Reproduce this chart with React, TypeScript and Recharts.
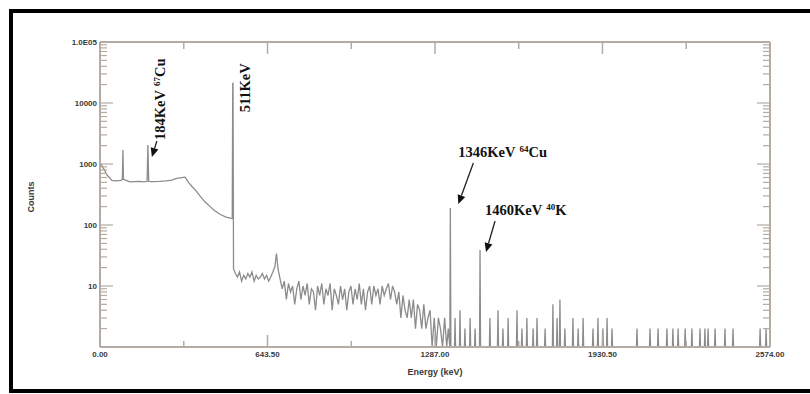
import React from "react";
import {
  LineChart,
  Line,
  XAxis,
  YAxis,
  ReferenceDot,
  Label,
} from "recharts";

// continuum below the annihilation peak (keV / counts)
const lowEnergy = [0, 12, 27, 46, 62, 80, 86, 88, 90, 100, 115, 135, 150, 170, 181, 184, 187, 200, 230, 255, 275, 295, 315, 327, 340, 355, 370, 384, 403, 423, 442, 461, 484, 500, 508];
const lowCounts = [1050, 870, 660, 540, 530, 540, 560, 1700, 560, 540, 510, 515, 520, 510, 520, 2050, 520, 515, 520, 530, 545, 580, 600, 610, 500, 420, 360, 300, 240, 200, 170, 150, 135, 130, 128];

// 511 keV line
const annEnergy = [510, 511, 513];
const annCounts = [21000, 21000, 19];

// noisy compton region
const midEnergy = [520, 528, 536, 544, 552, 560, 568, 576, 584, 592, 600, 608, 616, 624, 632, 640, 648, 656, 664, 672, 678, 684, 692, 700, 708, 716, 724, 732, 740, 748, 756, 764, 772, 780, 788, 796, 804, 812, 820, 828, 836, 844, 852, 860, 868, 876, 884, 892, 900, 908, 916, 924, 932, 940, 948, 956, 964, 972, 980, 988, 996, 1004, 1012, 1020, 1028, 1036, 1044, 1052, 1060, 1068, 1076, 1084, 1092, 1100, 1108, 1116, 1124, 1132, 1140, 1148, 1156, 1164, 1172, 1180, 1188, 1196, 1204, 1212, 1220, 1228, 1236, 1244, 1252, 1260, 1268, 1276, 1284, 1292, 1300, 1308, 1316, 1324, 1332, 1338];
const midCounts = [16, 14, 17, 12, 15, 13, 16, 14, 17, 12, 15, 13, 14, 16, 13, 15, 12, 14, 17, 21, 34, 19,
  13, 9, 12, 6, 11, 8, 10, 5, 9, 12,
  6, 10, 7, 11, 5, 9, 8, 4, 10, 7,
  11, 5, 9, 7, 11, 4, 9, 7, 5, 10,
  6, 9, 4, 8, 10, 5, 9, 6, 11, 5,
  9, 4, 8, 10, 5, 10, 7, 9, 5, 10,
  7, 9, 11, 6, 10, 8, 5, 8, 3, 7,
  4, 3, 6, 3, 6, 2, 5, 4, 2, 5,
  2, 3, 4, 1, 3, 1, 3, 2, 1, 3,
  1, 2];

// sparse high-energy counts (1 = empty channel, sits on the axis)
const tailEnergy = [1344, 1346, 1348, 1362, 1364, 1366, 1381, 1383, 1385, 1400, 1402, 1404, 1420, 1422, 1424, 1439, 1441, 1443, 1458, 1460, 1462, 1496, 1498, 1500, 1527, 1529, 1531, 1546, 1548, 1550, 1566, 1568, 1570, 1600, 1602, 1604, 1619, 1621, 1623, 1638, 1640, 1642, 1662, 1664, 1666, 1677, 1679, 1681, 1708, 1710, 1712, 1738, 1740, 1742, 1754, 1756, 1758, 1765, 1767, 1769, 1784, 1786, 1788, 1815, 1817, 1819, 1835, 1837, 1839, 1854, 1856, 1858, 1892, 1894, 1896, 1911, 1913, 1915, 1930, 1932, 1934, 1946, 1948, 1950, 1965, 1967, 1969, 2061, 2063, 2065, 2111, 2113, 2115, 2142, 2144, 2146, 2176, 2178, 2180, 2199, 2201, 2203, 2219, 2221, 2223, 2246, 2248, 2250, 2272, 2274, 2276, 2303, 2305, 2307, 2322, 2324, 2326, 2334, 2336, 2338, 2361, 2363, 2365, 2399, 2401, 2403, 2430, 2432, 2434, 2534, 2536, 2538, 2557, 2559, 2561, 2574];
const tailCounts = [1, 190, 1, 1, 3, 1, 1, 4, 1, 1, 2, 1, 1, 3, 1, 1, 2, 1, 1, 39, 1, 1, 3, 1, 1, 4, 1, 1, 2, 1, 1, 3, 1, 1, 4, 1, 1, 2, 1, 1, 3, 1, 1, 2, 1, 1, 3, 1, 1, 2, 1, 1, 5, 1, 1, 3, 1, 1, 6, 1, 1, 2, 1, 1, 3, 1, 1, 2, 1, 1, 3, 1, 1, 2, 1, 1, 3, 1, 1, 2, 1, 1, 3, 1, 1, 2, 1, 1, 2, 1, 1, 2, 1, 1, 2, 1, 1, 2, 1, 1, 2, 1, 1, 2, 1, 1, 2, 1, 1, 2, 1, 1, 2, 1, 1, 2, 1, 1, 2, 1, 1, 2, 1, 1, 2, 1, 1, 2, 1, 1, 2, 1, 1, 2, 1, 1];

const xMajorTicks = [0, 643.5, 1287, 1930.5, 2574];
const xTickLabels = ["0.00", "643.50", "1287.00", "1930.50", "2574.00"];
const xMinorTicks = [321.75, 965.25, 1608.75, 2252.25];

const yMajorTicks = [1, 10, 100, 1000, 10000, 100000];
const yTickLabels = ["", "10", "100", "1000", "10000", "1.0E05"];
const yMinorMult = [2, 3, 4, 5, 6, 7, 8, 9];

const axisColor = "#b4aba3";
const labelColor = "#3a3a3a";

const energy = [...lowEnergy, ...annEnergy, ...midEnergy, ...tailEnergy];
const counts = [...lowCounts, ...annCounts, ...midCounts, ...tailCounts];
const spectrum = energy.map((e, i) => ({ e, c: counts[i] }));

const xTicks = [...xMajorTicks, ...xMinorTicks].sort((a, b) => a - b);
const yTicks = [
  ...yMajorTicks,
  ...yMajorTicks.slice(0, -1).flatMap((d) => yMinorMult.map((m) => d * m)),
].sort((a, b) => a - b);

const tickFont = { fontSize: 8, fontWeight: 700, fontFamily: "Liberation Sans, Arial, sans-serif", fill: labelColor };

const BottomTick = ({ x, y, payload }: any) => {
  const i = xMajorTicks.indexOf(payload.value);
  return (
    <g>
      <line x1={x} y1={y} x2={x} y2={y - (i >= 0 ? 12 : 6)} stroke={axisColor} strokeWidth={1.5} />
      {i >= 0 && (
        <text x={x} y={y + 10} textAnchor="middle" {...tickFont}>
          {xTickLabels[i]}
        </text>
      )}
    </g>
  );
};

const TopTick = ({ x, y, payload }: any) => {
  const major = xMajorTicks.includes(payload.value);
  return <line x1={x} y1={y} x2={x} y2={y + (major ? 12 : 7)} stroke={axisColor} strokeWidth={1.5} />;
};

const LeftTick = ({ x, y, payload }: any) => {
  const i = yMajorTicks.indexOf(payload.value);
  return (
    <g>
      <line x1={x} y1={y} x2={x + (i >= 0 ? 13 : 7)} y2={y} stroke={axisColor} strokeWidth={1.2} />
      {i >= 0 && (
        <text x={x - 3} y={y + 3} textAnchor="end" {...tickFont}>
          {yTickLabels[i]}
        </text>
      )}
    </g>
  );
};

const RightTick = ({ x, y, payload }: any) => {
  const major = yMajorTicks.includes(payload.value);
  return <line x1={x} y1={y} x2={x - (major ? 13 : 7)} y2={y} stroke={axisColor} strokeWidth={1.2} />;
};

const annFont = { fontSize: 14.5, fontWeight: 700, fontFamily: "Liberation Serif, Times New Roman, serif", fill: "#111" };

const Arrow = ({ x1, y1, x2, y2 }: { x1: number; y1: number; x2: number; y2: number }) => {
  const len = Math.hypot(x2 - x1, y2 - y1);
  const ux = (x2 - x1) / len;
  const uy = (y2 - y1) / len;
  const bx = x2 - ux * 9;
  const by = y2 - uy * 9;
  const pts = `${x2},${y2} ${bx - uy * 4},${by + ux * 4} ${bx + uy * 4},${by - ux * 4}`;
  return (
    <g>
      <line x1={x1} y1={y1} x2={bx} y2={by} stroke="#222" strokeWidth={1.3} />
      <polygon points={pts} fill="#111" />
    </g>
  );
};

const Iso = ({ mass, el }: { mass: string; el: string }) => (
  <>
    <tspan dx={4} dy={-5} fontSize={9}>{mass}</tspan>
    <tspan dy={5}>{el}</tspan>
  </>
);

const Cu67Mark = ({ cx, cy }: any) => (
  <g>
    <text x={cx + 12} y={cy - 5} dy="0.35em" transform={`rotate(-90 ${cx + 12} ${cy - 5})`} {...annFont}>
      184KeV<Iso mass="67" el="Cu" />
    </text>
    <Arrow x1={cx + 9} y1={cy - 4} x2={cx + 4} y2={cy + 12} />
  </g>
);

const AnnMark = ({ cx, cy }: any) => (
  <text x={cx + 12} y={cy + 29} dy="0.35em" transform={`rotate(-90 ${cx + 12} ${cy + 29})`} {...annFont}>
    511KeV
  </text>
);

const Cu64Mark = ({ cx, cy }: any) => (
  <g>
    <text x={cx + 8} y={cy - 51} {...annFont}>
      1346KeV<Iso mass="64" el="Cu" />
    </text>
    <Arrow x1={cx + 23} y1={cy - 45} x2={cx + 8} y2={cy - 4} />
  </g>
);

const K40Mark = ({ cx, cy }: any) => (
  <g>
    <text x={cx + 5} y={cy - 35} {...annFont}>
      1460KeV<Iso mass="40" el="K" />
    </text>
    <Arrow x1={cx + 15} y1={cy - 29} x2={cx + 6} y2={cy + 2} />
  </g>
);

const CountsLabel = () => (
  <text x={31} y={197} transform="rotate(-90 31 197)" textAnchor="middle" dy="0.35em" {...tickFont} fontSize={9}>
    Counts
  </text>
);

export default function App() {
  return (
    <div style={{ position: "absolute", left: 0, top: 0, width: 810, height: 394, background: "#fff", overflow: "hidden" }}>
      <div
        style={{
          position: "absolute",
          left: 9,
          top: 9,
          width: 810,
          height: 384,
          border: "4px solid #000",
          boxSizing: "border-box",
        }}
      />
      <div style={{ position: "absolute", left: 0, top: 0 }}>
        <LineChart width={810} height={394} data={spectrum} margin={{ top: 32, right: 30, bottom: 17, left: 40 }}>
          <XAxis
            xAxisId="b"
            dataKey="e"
            type="number"
            domain={[0, 2574]}
            ticks={xTicks}
            interval={0}
            tickSize={0}
            tickMargin={0}
            tick={<BottomTick />}
            height={30}
            axisLine={{ stroke: axisColor, strokeWidth: 2 }}
            allowDataOverflow
          >
            <Label value="Energy (keV)" position="insideBottom" offset={2} {...tickFont} fontSize={9} />
          </XAxis>
          <XAxis
            xAxisId="t"
            orientation="top"
            dataKey="e"
            type="number"
            domain={[0, 2574]}
            ticks={xTicks}
            interval={0}
            tickSize={0}
            tickMargin={0}
            tick={<TopTick />}
            height={10}
            axisLine={{ stroke: axisColor, strokeWidth: 2 }}
            allowDataOverflow
          />
          <YAxis
            yAxisId="l"
            scale="log"
            domain={[1, 100000]}
            ticks={yTicks}
            interval={0}
            tickSize={0}
            tickMargin={0}
            tick={<LeftTick />}
            width={60}
            axisLine={{ stroke: axisColor, strokeWidth: 2 }}
            allowDataOverflow
          >
            <Label content={<CountsLabel />} />
          </YAxis>
          <YAxis
            yAxisId="r"
            orientation="right"
            scale="log"
            domain={[1, 100000]}
            ticks={yTicks}
            interval={0}
            tickSize={0}
            tickMargin={0}
            tick={<RightTick />}
            width={10}
            axisLine={{ stroke: axisColor, strokeWidth: 2 }}
            allowDataOverflow
          />
          <Line
            xAxisId="t"
            yAxisId="r"
            dataKey="c"
            stroke="none"
            dot={false}
            isAnimationActive={false}
          />
          <Line
            xAxisId="b"
            yAxisId="l"
            type="linear"
            dataKey="c"
            stroke="#8c8c8c"
            strokeWidth={1.3}
            dot={false}
            isAnimationActive={false}
          />
          <ReferenceDot xAxisId="b" yAxisId="l" x={184} y={2050} ifOverflow="visible" shape={Cu67Mark} />
          <ReferenceDot xAxisId="b" yAxisId="l" x={511} y={21000} ifOverflow="visible" shape={AnnMark} />
          <ReferenceDot xAxisId="b" yAxisId="l" x={1346} y={190} ifOverflow="visible" shape={Cu64Mark} />
          <ReferenceDot xAxisId="b" yAxisId="l" x={1460} y={39} ifOverflow="visible" shape={K40Mark} />
        </LineChart>
      </div>
    </div>
  );
}
